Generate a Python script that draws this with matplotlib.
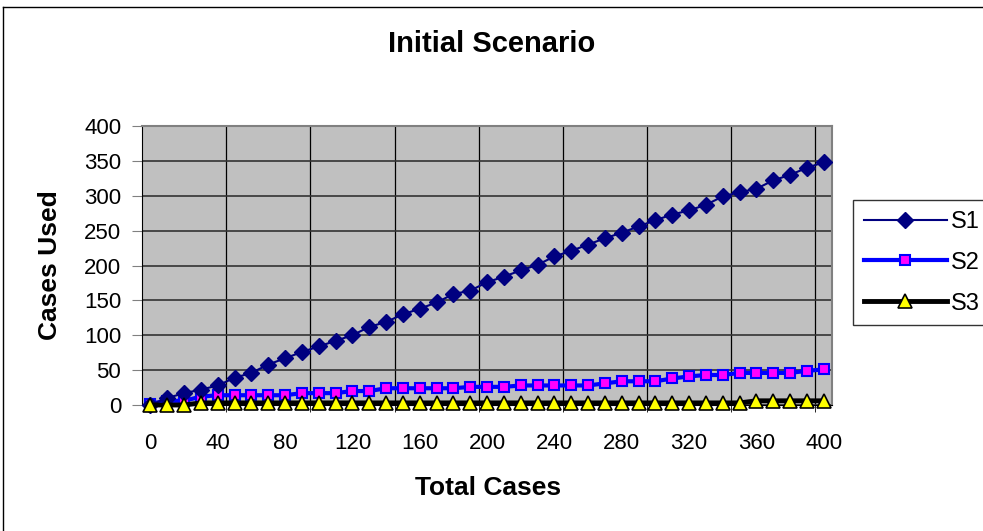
import matplotlib.pyplot as plt
from matplotlib.lines import Line2D

plt.rcParams['font.family'] = ['Liberation Sans', 'DejaVu Sans']

# data
total_cases = list(range(0, 410, 10))
s1 = [0, 10, 17, 22, 28, 39, 46, 58, 67, 76,
      84, 92, 100, 112, 119, 130, 138, 147, 159, 164,
      176, 184, 193, 201, 213, 221, 230, 239, 247, 256,
      265, 273, 279, 287, 299, 305, 310, 322, 330, 340, 348]
s2 = [2, 6, 6, 12, 14, 14, 14, 14, 14, 17,
      17, 17, 20, 20, 24, 24, 24, 24, 24, 26,
      26, 26, 28, 28, 28, 28, 28, 31, 34, 34,
      34, 38, 41, 43, 43, 46, 46, 46, 46, 49, 51]
s3 = [0, 0, 0, 3, 3, 3, 3, 3, 3, 3,
      3, 3, 3, 3, 3, 3, 3, 3, 3, 3,
      3, 3, 3, 3, 3, 3, 3, 3, 3, 3,
      3, 3, 3, 3, 3, 3, 6, 6, 6, 6, 6]
x_labels = list(range(0, 401, 40))
y_ticks = list(range(0, 401, 50))

fig = plt.figure(figsize=(9.83, 5.31), dpi=100)
ax = fig.add_axes([0.1445, 0.2373, 0.702, 0.5254])
ax.set_facecolor('#C0C0C0')

ax.plot(total_cases, s1, color='#000080', lw=1.5, marker='D', ms=8,
        mfc='#000080', mec='#000080', label='S1', clip_on=False, zorder=5)
ax.plot(total_cases, s2, color='#0000FF', lw=3, marker='s', ms=7.5,
        mfc='#FF00FF', mec='#0000FF', mew=1.5, label='S2', clip_on=False, zorder=4)
ax.plot(total_cases, s3, color='black', lw=3.5, marker='^', ms=10,
        mfc='#FFFF00', mec='black', mew=1.2, label='S3', clip_on=False, zorder=6)

ax.set_xlim(-5, 405)
ax.set_ylim(0, 400)
ax.set_xticks(x_labels)
ax.set_xticklabels([str(v) for v in x_labels])
ax.set_xticks(list(range(45, 400, 50)), minor=True)
ax.set_yticks(y_ticks)
ax.tick_params(axis='x', which='major', length=0, labelsize=16, pad=20)
ax.tick_params(axis='x', which='minor', length=5, direction='out', color='black')
ax.tick_params(axis='y', length=7, direction='out', color='#808080',
               labelsize=16, pad=8)
ax.grid(True, axis='y', color='#333333', lw=1.2)
ax.grid(True, axis='x', which='minor', color='black', lw=0.9)
ax.set_axisbelow(True)

for side in ['top', 'right']:
    ax.spines[side].set_color('#808080')
    ax.spines[side].set_linewidth(1.5)
for side in ['left', 'bottom']:
    ax.spines[side].set_color('black')

fig.text(0.5, 0.917, 'Initial Scenario', ha='center', va='center',
         fontsize=21, fontweight='bold')
fig.text(0.496, 0.081, 'Total Cases', ha='center', va='center',
         fontsize=19, fontweight='bold')
fig.text(0.051, 0.5, 'Cases Used', ha='center', va='center', rotation=90,
         fontsize=19, fontweight='bold')

leg = fig.legend(loc='upper left', bbox_to_anchor=(0.868, 0.623), fontsize=17,
                 frameon=True, fancybox=False, edgecolor='black',
                 handlelength=3.5, handletextpad=0.2, labelspacing=0.8,
                 borderpad=0.45, borderaxespad=0)
leg.get_frame().set_linewidth(1.0)

# outer chart border (left and top visible)
fig.add_artist(Line2D([0.003, 0.003], [0, 0.987], color='black', lw=1))
fig.add_artist(Line2D([0.003, 1], [0.987, 0.987], color='black', lw=1))

fig.savefig('out.png', dpi=100)
